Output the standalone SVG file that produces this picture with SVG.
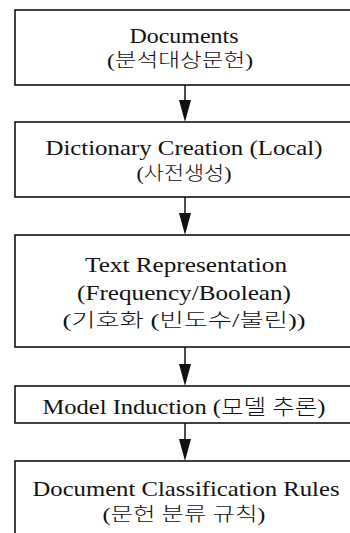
<svg xmlns="http://www.w3.org/2000/svg" width="350" height="533" viewBox="0 0 350 533">
<defs>
<style>
.box{fill:#fff;stroke:#111;stroke-width:1.6}
.t{font-family:"Liberation Serif","Noto Sans CJK KR",serif;font-size:21px;fill:#111;text-anchor:middle}
.k{font-family:"Liberation Serif","Noto Sans CJK KR",serif;font-size:19px;font-weight:300;fill:#111;text-anchor:middle}
.c{stroke:#111;stroke-width:1.5;fill:none}
.h{fill:#111}
</style>
</defs>
<rect width="350" height="533" fill="#fff"/>
<g id="documents">
<rect class="box" x="15" y="10" width="350" height="75"/>
<text class="t" x="184" y="43" textLength="109" lengthAdjust="spacingAndGlyphs">Documents</text>
<text class="k" x="180" y="67" textLength="146" lengthAdjust="spacingAndGlyphs">(분석대상문헌)</text>
</g>
<g id="dictionary">
<rect class="box" x="15" y="122" width="350" height="75"/>
<text class="t" x="184" y="155" textLength="277" lengthAdjust="spacingAndGlyphs">Dictionary Creation (Local)</text>
<text class="k" x="184" y="180" textLength="95" lengthAdjust="spacingAndGlyphs">(사전생성)</text>
</g>
<g id="representation">
<rect class="box" x="15" y="235" width="350" height="112"/>
<text class="t" x="186" y="272" textLength="202" lengthAdjust="spacingAndGlyphs">Text Representation</text>
<text class="t" x="184" y="300" textLength="214" lengthAdjust="spacingAndGlyphs">(Frequency/Boolean)</text>
<text class="k" x="184" y="327" textLength="243" lengthAdjust="spacingAndGlyphs">(기호화 (빈도수/불린))</text>
</g>
<g id="induction">
<rect class="box" x="15" y="386" width="350" height="37"/>
<text class="t" x="184" y="414" textLength="283" lengthAdjust="spacingAndGlyphs">Model Induction (<tspan font-weight="300">모델 추론</tspan>)</text>
</g>
<g id="rules">
<rect class="box" x="15" y="461" width="350" height="90"/>
<text class="t" x="186" y="496" textLength="307" lengthAdjust="spacingAndGlyphs">Document Classification Rules</text>
<text class="k" x="184" y="521" textLength="163" lengthAdjust="spacingAndGlyphs">(문헌 분류 규칙)</text>
</g>
<g id="connectors">
<line class="c" x1="185" y1="85" x2="185" y2="110"/>
<polygon class="h" points="179,100 191,100 185,122"/>
<line class="c" x1="185" y1="197" x2="185" y2="223"/>
<polygon class="h" points="179,213 191,213 185,235"/>
<line class="c" x1="185" y1="347" x2="185" y2="374"/>
<polygon class="h" points="179,364 191,364 185,386"/>
<line class="c" x1="185" y1="423" x2="185" y2="449"/>
<polygon class="h" points="179,439 191,439 185,461"/>
</g>
</svg>
